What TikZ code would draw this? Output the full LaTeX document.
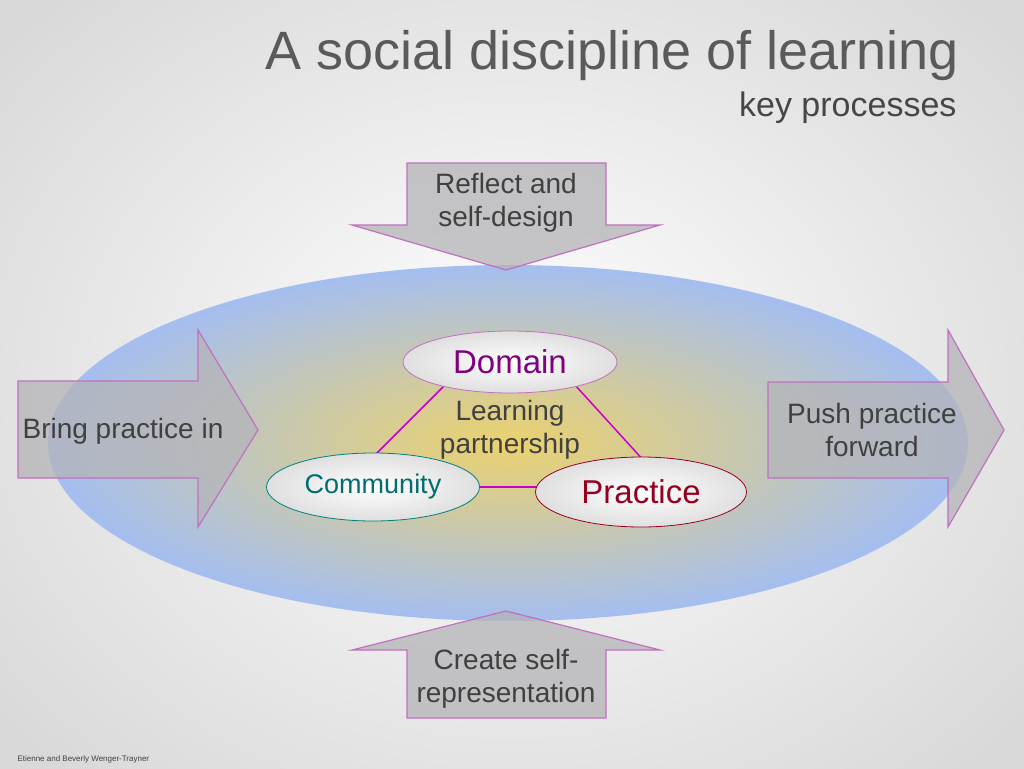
\documentclass[tikz,border=0pt]{standalone}
\usepackage{fontspec}
\setmainfont{Liberation Sans}
\usetikzlibrary{shapes.geometric}
\definecolor{arrfill}{HTML}{B4B4B8}
\definecolor{arrline}{HTML}{C070C0}
\definecolor{txt}{HTML}{404040}
\tikzset{
  bigarrow/.style={fill=arrfill,fill opacity=0.75,draw=arrline,line width=1.2pt},
  lab/.style={text=txt,font=\fontsize{28}{33}\selectfont,align=center},
  oval/.style={ellipse,draw,line width=0.8pt,inner color=white,outer color=gray!25,minimum width=#1,inner sep=0pt},
  tri/.style={line width=1.5pt,draw={rgb,255:red,200;green,0;blue,200}},
}
\begin{document}
\begin{tikzpicture}[x=1pt,y=-1pt]
\useasboundingbox (0,0) rectangle (1024,768);
\shade[inner color=white,outer color=gray!30] (-150,-150) rectangle (1174,918);
\shade[inner color={rgb,255:red,235;green,210;blue,110},outer color={rgb,255:red,165;green,190;blue,240}] (508,443) ellipse [x radius=460,y radius=178];
% arrows
\draw[bigarrow] (407,163) -- (606,163) -- (606,225) -- (660,225) -- (506,270) -- (352,225) -- (407,225) -- cycle;
\draw[bigarrow] (506,611) -- (660,650) -- (606,650) -- (606,718) -- (407,718) -- (407,650) -- (352,650) -- cycle;
\draw[bigarrow] (18,381) -- (198,381) -- (198,330) -- (258,430) -- (198,527) -- (198,478) -- (18,478) -- cycle;
\draw[bigarrow] (768,382) -- (948,382) -- (948,330) -- (1004,430) -- (948,527) -- (948,478) -- (768,478) -- cycle;
\node[lab] (reflect) at (506,203) {Reflect and\\self-design};
\node[lab] (create) at (506,679) {Create self-\\representation};
\node[lab] (bring) at (123,431) {Bring practice in};
\node[lab] (push) at (872,430) {Push practice\\forward};
% triangle
\coordinate (a1) at (445,385); \coordinate (a2) at (372,458);
\coordinate (b1) at (575,385); \coordinate (b2) at (645,462);
\coordinate (c1) at (470,487); \coordinate (c2) at (545,487);
\draw[tri] (a1) -- (a2); \draw[tri] (b1) -- (b2); \draw[tri] (c1) -- (c2);
\node[lab] (lp) at (510,430) {Learning\\partnership};
\node[oval=214pt,draw=arrline,minimum height=62pt,text={rgb,255:red,128;green,0;blue,128},font=\fontsize{33}{38}\selectfont] (dom) at (510,362) {Domain};
\node[oval=213pt,draw={rgb,255:red,0;green,128;blue,128},minimum height=68pt,text={rgb,255:red,0;green,110;blue,110},font=\fontsize{27}{30}\selectfont] (com) at (373,487) {Community};
\node[oval=211pt,draw={rgb,255:red,150;green,0;blue,40},minimum height=70pt,text={rgb,255:red,150;green,0;blue,30},font=\fontsize{33}{38}\selectfont] (pra) at (641,492) {Practice};
% titles
\node[anchor=east,text={rgb,255:red,90;green,90;blue,90},font=\fontsize{54}{60}\selectfont] (title) at (962,56) {A social discipline of learning};
\node[anchor=east,text={rgb,255:red,70;green,70;blue,70},font=\fontsize{34}{40}\selectfont] (sub) at (960,108) {key processes};
\node[anchor=west,text=txt,font=\fontsize{8}{9}\selectfont] (foot) at (14,759) {Etienne and Beverly Wenger-Trayner};
\end{tikzpicture}
\end{document}
